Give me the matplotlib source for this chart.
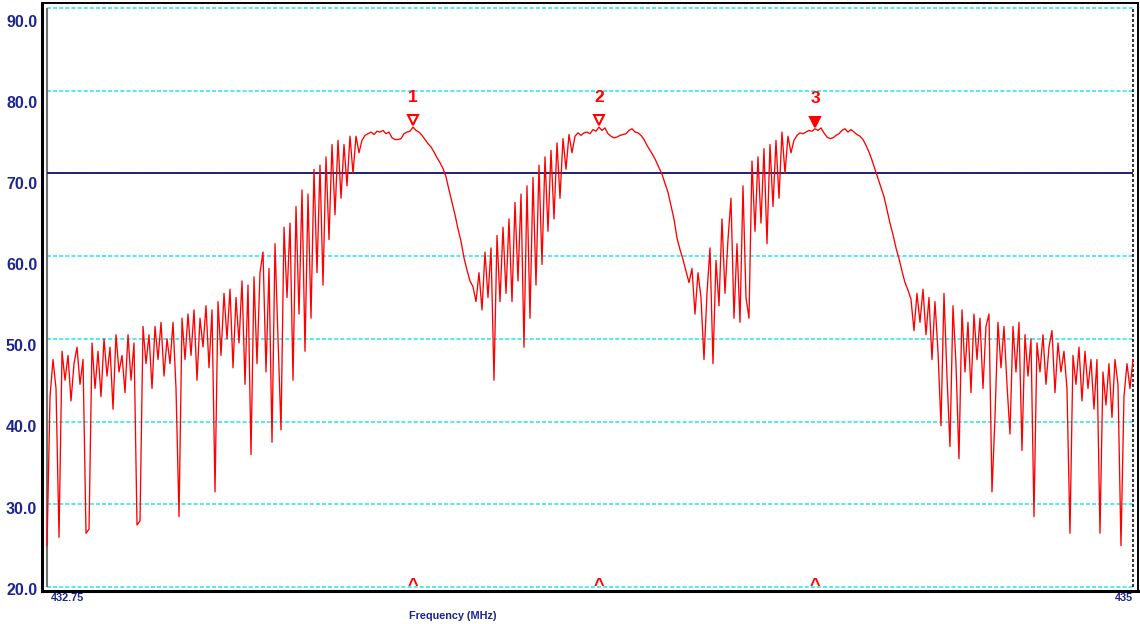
import numpy as np
import matplotlib.pyplot as plt

plt.rcParams['font.family'] = ['Liberation Sans', 'DejaVu Sans']
plt.rcParams['lines.scale_dashes'] = False

f_start = 432.75
f_stop = 435.0

# sweep trace, dBuV
level = [
    25.0, 43.0, 47.5, 44.0, 26.0, 48.5, 45.0, 48.0, 42.5, 47.0,
    49.0, 44.5, 47.5, 26.5, 27.0, 49.5, 44.0, 48.5, 43.0, 50.0,
    45.5, 49.0, 41.5, 50.5, 46.0, 48.0, 43.5, 50.5, 45.0, 49.5,
    27.5, 28.0, 51.5, 47.0, 50.5, 44.0, 51.5, 47.5, 52.0, 45.5,
    50.0, 47.0, 52.0, 44.0, 28.5, 52.5, 47.5, 53.0, 48.0, 53.5,
    45.0, 52.5, 49.0, 54.0, 46.5, 53.5, 31.5, 54.5, 48.0, 55.5,
    50.0, 56.0, 46.5, 55.0, 49.5, 57.0, 44.5, 56.5, 36.0, 57.5,
    47.0, 58.0, 60.5, 46.0, 58.5, 37.5, 61.5, 50.0, 39.0, 63.5,
    55.0, 64.0, 45.0, 66.0, 53.0, 68.0, 48.5, 67.5, 52.5, 70.5,
    58.0, 71.0, 56.5, 72.0, 62.0, 73.5, 65.0, 74.0, 67.0, 73.5,
    68.5, 74.5, 70.0, 74.5, 72.5, 74.0, 74.6, 74.8, 75.0, 74.7,
    75.1, 75.0, 75.2, 74.8, 75.0, 74.3, 74.1, 74.1, 74.2, 74.8,
    75.0, 75.1, 75.6, 75.2, 75.0, 74.6, 74.1, 73.6, 73.2, 72.6,
    71.9, 71.3, 70.6, 69.6, 68.0, 66.5, 65.0, 63.3, 61.8, 59.8,
    58.3, 57.0, 56.3, 54.5, 58.0, 53.5, 60.5, 55.0, 61.0, 45.0,
    62.5, 54.5, 63.5, 55.5, 64.5, 54.5, 66.5, 57.0, 67.5, 49.0,
    68.5, 52.5, 69.5, 56.5, 71.0, 59.0, 72.0, 63.0, 72.8, 64.5,
    73.7, 67.0, 74.2, 70.5, 74.7, 72.5, 74.5, 74.9, 74.6, 74.9,
    75.0, 74.8, 75.3, 75.1, 75.6, 75.2, 75.5, 74.8, 74.5, 74.3,
    74.4, 74.6, 74.7, 74.8, 75.2, 75.4, 75.0, 74.9, 74.6, 74.1,
    73.4, 72.8, 72.2, 71.5, 70.7, 69.9, 68.8, 67.7, 66.1, 64.5,
    62.2, 60.8, 59.6, 58.2, 56.8, 58.5, 53.0, 58.0, 55.0, 47.5,
    55.5, 61.0, 47.0, 59.5, 54.0, 64.5, 55.5, 62.0, 67.0, 52.5,
    61.5, 52.0, 68.5, 55.0, 52.5, 71.5, 63.0, 72.0, 64.0, 73.0,
    61.5, 73.5, 66.0, 74.0, 67.0, 75.0, 70.0, 74.5, 72.5, 74.0,
    74.6, 74.9, 74.8, 75.0, 75.2, 75.1, 75.4, 75.2, 75.5, 74.9,
    74.4, 74.2, 74.3, 74.6, 74.8, 75.2, 75.4, 75.0, 75.3, 75.0,
    74.7, 74.5, 74.1, 73.4, 72.6, 71.6, 70.5, 69.4, 68.3, 67.2,
    65.6, 64.0, 62.6, 61.0, 59.7, 58.2, 56.8, 55.9, 54.8, 51.0,
    55.5, 52.0, 56.0, 50.5, 55.0, 47.5, 54.5, 48.5, 39.5, 55.5,
    45.5, 37.0, 54.0, 47.0, 35.5, 53.5, 46.0, 52.0, 43.5, 53.0,
    47.5, 52.5, 44.0, 51.5, 53.0, 31.5, 40.5, 52.0, 46.5, 51.5,
    44.5, 38.5, 51.5, 46.0, 52.0, 36.5, 50.5, 45.5, 50.0, 28.5,
    49.5, 46.0, 50.5, 44.5, 49.0, 51.0, 43.5, 49.5, 46.0, 48.5,
    44.0, 26.5, 48.0, 44.5, 49.0, 42.5, 48.5, 44.0, 47.5, 41.5,
    47.5, 26.5, 46.0, 42.0, 47.0, 40.5, 47.5, 44.5, 25.0, 43.0,
    47.0, 44.0, 47.5,
]

grid_levels = [20, 30, 40, 50, 60, 70, 80, 90]
scale_text = ['20.0', '30.0', '40.0', '50.0', '60.0', '70.0', '80.0', '90.0']
display_line = 70.1
marker_idx = [122, 184, 256]
marker_names = ['1', '2', '3']

navy = '#1c2590'
cyan = '#22e4ea'

freq = np.linspace(f_start, f_stop, len(level))
level = np.array(level)

fig = plt.figure(figsize=(11.4, 6.24), dpi=100)
ax = fig.add_axes([0.03684, 0.05288, 0.96140, 0.94231])
ax.set_xlim(432.7396, 435.0104)
ax.set_ylim(19.516, 90.6045)

# grid and reference lines
ax.hlines(grid_levels, f_start, f_stop, colors=cyan, lw=1.1,
          linestyles=(0, (2.9, 1.5)), zorder=1)
ax.vlines(f_start, 20, 90, colors='#707070', lw=1.5, zorder=2)
ax.vlines(f_stop, 20, 90, colors='black', lw=1.1,
          linestyles=(0, (2.2, 1.4)), zorder=2)
ax.hlines(display_line, f_start, f_stop, colors='#20207a', lw=1.4, zorder=3)

ax.plot(freq, level, color='#ff0000', lw=0.95, zorder=4)

# peak markers
for i, name in zip(marker_idx, marker_names):
    fill = 'red' if name == '3' else 'white'
    ax.plot(freq[i], level[i] + 0.8, marker='v', ms=6.5, mfc=fill, mec='red',
            mew=1.5, zorder=5)
    ax.annotate(name, xy=(freq[i], level[i]), xytext=(0, 21.5),
                textcoords='offset points', ha='center', va='center',
                color='red', fontsize=12.5, fontweight='bold', zorder=5)
    ax.annotate('^', xy=(freq[i], 20), xytext=(0, 0.5),
                textcoords='offset points', ha='center', va='center',
                color='red', fontsize=13, fontweight='bold', zorder=5)

# scale labels, printed slightly compressed against the grid
label_pos = 20 + (np.array(grid_levels) - 20) * 0.981 - 0.2
ax.set_yticks(label_pos)
ax.set_yticklabels(scale_text)
ax.set_xticks([])
ax.tick_params(axis='y', length=0, pad=3.5, labelsize=11.5, labelcolor=navy)
for t in ax.get_yticklabels():
    t.set_fontweight('bold')

ax.annotate('432.75', xy=(f_start, 0), xycoords=('data', 'axes fraction'),
            xytext=(3, -1.5), textcoords='offset points', ha='left', va='top',
            color=navy, fontsize=7.8, fontweight='bold')
ax.annotate('435', xy=(f_stop, 0), xycoords=('data', 'axes fraction'),
            xytext=(0, -1.5), textcoords='offset points', ha='right', va='top',
            color=navy, fontsize=7.8, fontweight='bold')
ax.set_xlabel('Frequency (MHz)', color=navy, fontsize=7.8, fontweight='bold')
ax.xaxis.set_label_coords((453 - 42) / 1096, -0.034)

for side in ['left', 'bottom']:
    ax.spines[side].set_linewidth(2.2)
for side in ['top', 'right']:
    ax.spines[side].set_linewidth(1.4)

fig.savefig('out.png', dpi=100)
